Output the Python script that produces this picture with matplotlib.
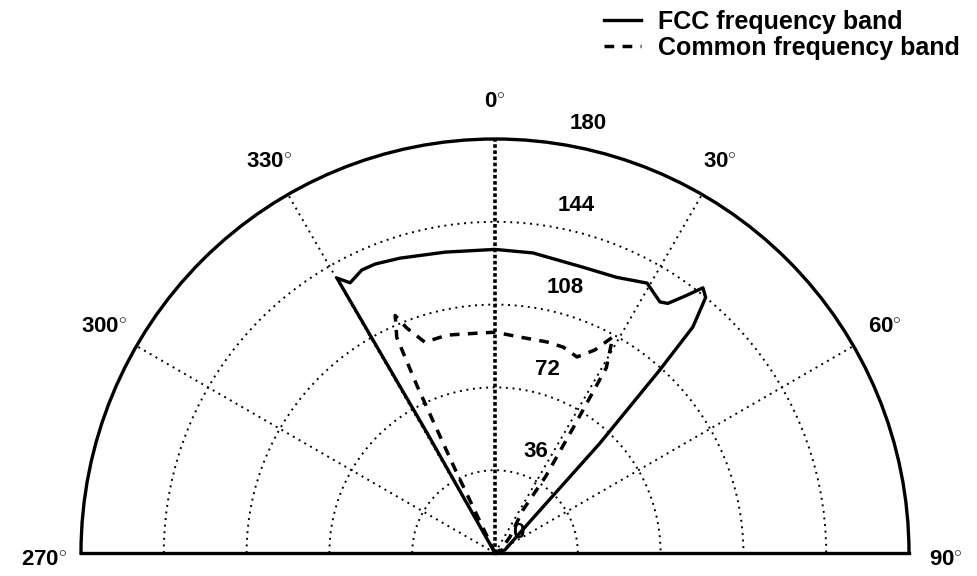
import numpy as np
import matplotlib
matplotlib.use("Agg")
import matplotlib.pyplot as plt

plt.rcParams['font.family'] = ['Liberation Sans', 'DejaVu Sans']
plt.rcParams['font.weight'] = 'bold'
plt.rcParams['mathtext.fontset'] = 'custom'
plt.rcParams['mathtext.rm'] = 'Liberation Sans:bold'
plt.rcParams['mathtext.bf'] = 'Liberation Sans:bold'

# ---- data (degrees, radius) ----
fcc_theta = [0, -29.5, -29.9, -28.2, -25.2, -22.5, -17.9, -9.4, 0, 7.2, 17.1, 23.8,
             29.4, 33.3, 34.7, 36.5, 38.1, 39.5, 41.2, 42.0, 43.7, 46.0, 51.0, 73.0, 0]
fcc_r = [0, 60, 137.9, 133.3, 136, 136, 134.7, 132.6, 132, 131.5, 130, 131,
         134.7, 130.6, 132, 139, 146.5, 144, 130.6, 107, 66, 30, 14, 4.5, 0]

com_theta = [0, -25.5, -25, -24.5, -22.8, -21.4, -18.4, -12.4, -6.5, 0, 6.6, 13.8,
             18.3, 22.7, 26.2, 28.6, 31.0, 32.0, 33.5, 33.0, 43.0, 60.0, 0]
com_r = [0, 40, 80, 103, 112, 105, 96.6, 97, 96, 96, 94.5, 94.5,
         94.3, 92.4, 98.4, 107, 94, 64, 40, 22, 9.5, 3, 0]

r_ticks = [0, 36, 72, 108, 144, 180]
theta_ticks = [-90, -60, -30, 0, 30, 60, 90]
theta_labels = ['270', '300', '330', '0', '30', '60', '90']
series_names = ['FCC frequency band', 'Common frequency band']

# ---- figure ----
W, H = 977, 576
fig = plt.figure(figsize=(W / 100, H / 100), dpi=100)
S = 828            # square axes side (px); half disc occupies its middle band
cx, cy = 495, 553  # pole position in px (from top)
left = (cx - S / 2) / W
bottom = (H - (cy + S / 4)) / H
ax = fig.add_axes([left, bottom, S / W, S / H], projection='polar')
ax.set_theta_zero_location('N')
ax.set_theta_direction(-1)
ax.set_thetamin(-90)
ax.set_thetamax(90)
ax.set_ylim(0, 180)

ax.set_thetagrids(theta_ticks, labels=[''] * len(theta_ticks))
ax.set_rgrids(r_ticks[1:-1], labels=[''] * (len(r_ticks) - 2))
ax.tick_params(axis='both', length=0)
dot = (0, (1, 2.4))
ax.xaxis.grid(True, color='black', linewidth=1.4, linestyle=dot)
ax.yaxis.grid(True, color='black', linewidth=1.4, linestyle=dot)

# emphasised 0 degree spoke
zero_idx = theta_ticks.index(0)
g0 = ax.xaxis.get_gridlines()[zero_idx]
g0.set_linewidth(2.6)
g0.set_linestyle((0, (1.0, 0.7)))

for name in ['polar', 'start', 'end']:
    ax.spines[name].set_linewidth(2.4)
    ax.spines[name].set_color('black')
ax.spines['inner'].set_visible(False)

l1, = ax.plot(np.deg2rad(fcc_theta), fcc_r, color='black', lw=2.4,
              solid_joinstyle='round', label=series_names[0])
l2, = ax.plot(np.deg2rad(com_theta), com_r, color='black', lw=2.5,
              linestyle=(0, (2.8, 2.4)), label=series_names[1])

# angular labels
for t, lab in zip(theta_ticks, theta_labels):
    dy = -7 if abs(t) == 90 else 0
    ax.annotate(lab + r'$^{\circ}$', xy=(np.deg2rad(t), 196), xytext=(0, dy),
                textcoords='offset pixels', ha='center', va='center',
                fontsize=16, fontweight='bold', annotation_clip=False)

# radial labels
for v in r_ticks:
    ax.annotate(str(v), xy=(np.deg2rad(8), v), xytext=(17, 20),
                textcoords='offset pixels', ha='left', va='center',
                fontsize=16, fontweight='bold', annotation_clip=False)

leg = fig.legend(handles=[l1, l2], loc='upper right', bbox_to_anchor=(0.995, 1.005),
                 frameon=False, fontsize=18, handlelength=1.5, handletextpad=0.65,
                 labelspacing=0.1, borderaxespad=0.1)
for txt in leg.get_texts():
    txt.set_fontweight('bold')

fig.savefig('out.png', dpi=100)
